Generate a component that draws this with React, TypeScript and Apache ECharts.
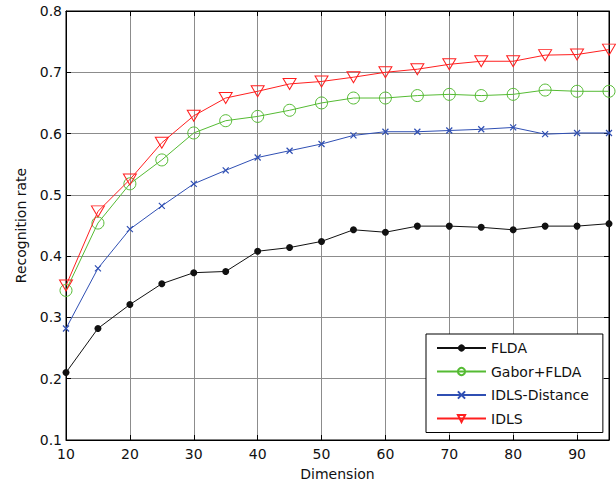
import React, { useEffect, useRef } from "react";
import * as echarts from "echarts";

const dims = [10, 15, 20, 25, 30, 35, 40, 45, 50, 55, 60, 65, 70, 75, 80, 85, 90, 95];
const flda = [0.21, 0.282, 0.321, 0.355, 0.373, 0.375, 0.408, 0.414, 0.424, 0.443, 0.439, 0.449, 0.449, 0.447, 0.443, 0.449, 0.449, 0.453];
const gaborFlda = [0.344, 0.454, 0.518, 0.557, 0.601, 0.621, 0.628, 0.638, 0.65, 0.658, 0.658, 0.662, 0.664, 0.662, 0.664, 0.671, 0.669, 0.669];
const idlsDistance = [0.282, 0.38, 0.444, 0.482, 0.518, 0.54, 0.561, 0.572, 0.583, 0.597, 0.603, 0.603, 0.605, 0.607, 0.61, 0.599, 0.601, 0.601];
const idls = [0.352, 0.473, 0.525, 0.585, 0.629, 0.658, 0.669, 0.681, 0.685, 0.692, 0.7, 0.705, 0.713, 0.718, 0.718, 0.728, 0.729, 0.737];
const seriesNames = ["FLDA", "Gabor+FLDA", "IDLS-Distance", "IDLS"];
const xName = "Dimension";
const yName = "Recognition rate";

const FONT = "DejaVu Sans";
const pair = (ys: number[]) => dims.map((d, i) => [d, ys[i]]);

export default function App() {
  const ref = useRef<HTMLDivElement>(null);
  useEffect(() => {
    if (!ref.current) return;
    const chart = echarts.init(ref.current, undefined, { renderer: "svg" });
    const black = "#111111";
    const green = "#55bb33";
    const blue = "#2f4fb3";
    const red = "#ff1f1f";
    const gridLine = { show: true, lineStyle: { color: "#8c8c8c", width: 1 } };
    const tick = { show: true, inside: true, length: 5, lineStyle: { color: "#000" } };
    const line = { show: true, lineStyle: { color: "#000", width: 1 } };
    chart.setOption({
      animation: false,
      backgroundColor: "#fff",
      textStyle: { fontFamily: FONT },
      grid: { left: 66, top: 11, right: 7, bottom: 45, show: true, borderColor: "#000", borderWidth: 1 },
      legend: {
        orient: "vertical",
        left: 426,
        top: 334,
        padding: [7, 14, 7, 10],
        itemGap: 9.5,
        itemWidth: 49,
        itemHeight: 9,
        backgroundColor: "#fff",
        borderColor: "#000",
        borderWidth: 1,
        borderRadius: 0,
        textStyle: { fontFamily: FONT, fontSize: 14, color: "#111" },
        data: seriesNames,
      },
      xAxis: [
        {
          type: "value",
          min: 10,
          max: 95,
          interval: 10,
          name: xName,
          nameLocation: "middle",
          nameGap: 27,
          nameTextStyle: { fontFamily: FONT, fontSize: 14, color: "#111" },
          axisLine: line,
          axisTick: tick,
          splitLine: gridLine,
          axisLabel: { fontFamily: FONT, fontSize: 14, color: "#111", margin: 7, showMaxLabel: false, formatter: (v: number) => (v === 95 ? "" : String(v)) },
        },
        {
          type: "value",
          position: "top",
          min: 10,
          max: 95,
          interval: 10,
          axisLine: line,
          axisTick: tick,
          splitLine: { show: false },
          axisLabel: { show: false },
        },
      ],
      yAxis: [
        {
          type: "value",
          min: 0.1,
          max: 0.8,
          interval: 0.1,
          name: yName,
          nameLocation: "middle",
          nameGap: 38,
          nameTextStyle: { fontFamily: FONT, fontSize: 14, color: "#111" },
          axisLine: line,
          axisTick: tick,
          splitLine: gridLine,
          axisLabel: { fontFamily: FONT, fontSize: 14, color: "#111", margin: 4, formatter: (v: number) => v.toFixed(1) },
        },
        {
          type: "value",
          position: "right",
          min: 0.1,
          max: 0.8,
          interval: 0.1,
          axisLine: line,
          axisTick: tick,
          splitLine: { show: false },
          axisLabel: { show: false },
        },
      ],
      series: [
        {
          name: seriesNames[0],
          type: "line",
          data: pair(flda),
          symbol: "circle",
          symbolSize: 7,
          lineStyle: { color: black, width: 1 },
          itemStyle: { color: black, borderColor: black, borderWidth: 0 },
          z: 2,
        },
        {
          name: seriesNames[1],
          type: "line",
          data: pair(gaborFlda),
          symbol: "circle",
          symbolSize: 12,
          lineStyle: { color: green, width: 1 },
          itemStyle: { color: "rgba(0,0,0,0)", borderColor: green, borderWidth: 1 },
          z: 3,
        },
        {
          name: seriesNames[2],
          type: "line",
          data: pair(idlsDistance),
          symbol: "path://M0,0L10,10M10,0L0,10",
          symbolSize: 6,
          lineStyle: { color: blue, width: 1 },
          itemStyle: { color: "rgba(0,0,0,0)", borderColor: blue, borderWidth: 1.2 },
          z: 4,
        },
        {
          name: seriesNames[3],
          type: "line",
          data: pair(idls),
          symbol: "path://M0,0L12,0L6,10Z",
          symbolSize: [13, 11],
          lineStyle: { color: red, width: 1 },
          itemStyle: { color: "rgba(0,0,0,0)", borderColor: red, borderWidth: 1 },
          z: 5,
        },
      ],
    });
    return () => chart.dispose();
  }, []);
  return <div ref={ref} style={{ position: "fixed", left: 0, top: 0, width: 616, height: 486 }} />;
}
